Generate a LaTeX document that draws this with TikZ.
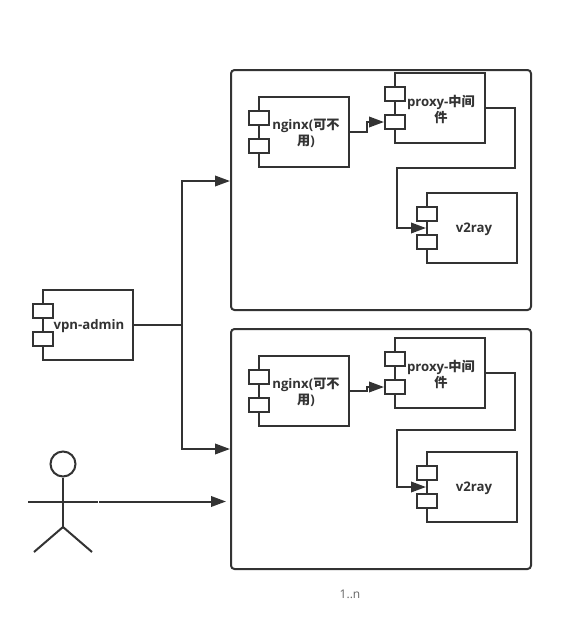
\documentclass[tikz,border=0pt]{standalone}
\usepackage{fontspec}
\setmainfont{Open Sans}
\newfontfamily\cjkf{Noto Sans CJK SC}
\usetikzlibrary{arrows.meta}
\definecolor{ink}{HTML}{333333}
\definecolor{soft}{HTML}{666666}
\newcommand{\zh}[1]{{\cjkf #1}}
\tikzset{
  line/.style={draw=ink,line width=2pt},
  conn/.style={line,-{Triangle[length=15pt,width=10.5pt,color=ink]},rounded corners=0pt},
  group/.style={line,rounded corners=3.5pt,fill=white,inner sep=0,minimum width=300pt,minimum height=240pt},
  compbox/.style={line,fill=white,inner sep=0,minimum width=90pt,minimum height=70pt},
  port/.style={line,fill=white,inner sep=0,minimum width=20pt,minimum height=14pt},
  lab/.style={text=ink,font=\bfseries\fontsize{13.2}{16.5}\selectfont,align=center,inner sep=0},
}
\newcommand{\comp}[5]{% name, left x of box, top y, label x offset from box centre, label
  \node[compbox] (#1) at (#2+45,#3+35) {};
  \node[port] (#1p1) at (#2,#3+21) {};
  \node[port] (#1p2) at (#2,#3+49) {};
  \node[lab] (#1t) at (#2+45+#4,#3+36.5) {#5};
}
\begin{document}
\begin{tikzpicture}[x=1pt,y=-1pt]
\useasboundingbox (0,0) rectangle (582,638);
\fill[white] (0,0) rectangle (582,638);
\node[group] (g1) at (381,190) {};
\node[group] (g2) at (381,449) {};
\comp{vpn}{43}{290}{1}{vpn-admin}
\comp{na}{259}{97}{2}{nginx(\zh{可不}\\\zh{用})}
\comp{pa}{395}{73}{1}{proxy-\zh{中间}\\\zh{件}}
\comp{va}{427}{193}{2}{v2ray}
\comp{nb}{259}{356}{2}{nginx(\zh{可不}\\\zh{用})}
\comp{pb}{395}{338}{1}{proxy-\zh{中间}\\\zh{件}}
\comp{vb}{427}{452}{2}{v2ray}
% connectors inside groups
\coordinate (na1) at (367,132); \coordinate (na2) at (367,122);
\draw[conn] (na.east) -- (na1) -- (na2) -- (pap2.west);
\coordinate (pa1) at (515,108); \coordinate (pa2) at (515,168); \coordinate (pa3) at (397,168); \coordinate (pa4) at (397,228);
\draw[conn] (pa.east) -- (pa1) -- (pa2) -- (pa3) -- (pa4) -- (va.west);
\coordinate (nb1) at (367,391); \coordinate (nb2) at (367,387);
\draw[conn] (nb.east) -- (nb1) -- (nb2) -- (pbp2.west);
\coordinate (pb1) at (515,373); \coordinate (pb2) at (515,430); \coordinate (pb3) at (397,430); \coordinate (pb4) at (397,487);
\draw[conn] (pb.east) -- (pb1) -- (pb2) -- (pb3) -- (pb4) -- (vb.west);
% vpn-admin to groups
\coordinate (j) at (182,325);
\coordinate (ua) at (182,181); \coordinate (ta) at (230,181);
\coordinate (ub) at (182,449); \coordinate (tb) at (230,449);
\draw[conn] (vpn.east) -- (j) -- (ua) -- (ta);
\draw[conn] (j) -- (ub) -- (tb);
% actor
\node[line,circle,fill=white,inner sep=0,minimum size=25pt] (head) at (63,464) {};
\coordinate (hip) at (63,527);
\coordinate (armL) at (28,501.5); \coordinate (armR) at (98,501.5);
\coordinate (legL) at (34,552); \coordinate (legR) at (92,552);
\draw[line] (head.south) -- (hip);
\draw[line] (armL) -- (armR);
\draw[line] (legL) -- (hip) -- (legR);
\coordinate (as) at (99,501.5); \coordinate (ae) at (226,501.5);
\draw[conn] (as) -- (ae);
\node[text=soft,font=\fontsize{12}{14}\selectfont,inner sep=0] (mult) at (350,594) {1..n};
\end{tikzpicture}
\end{document}
